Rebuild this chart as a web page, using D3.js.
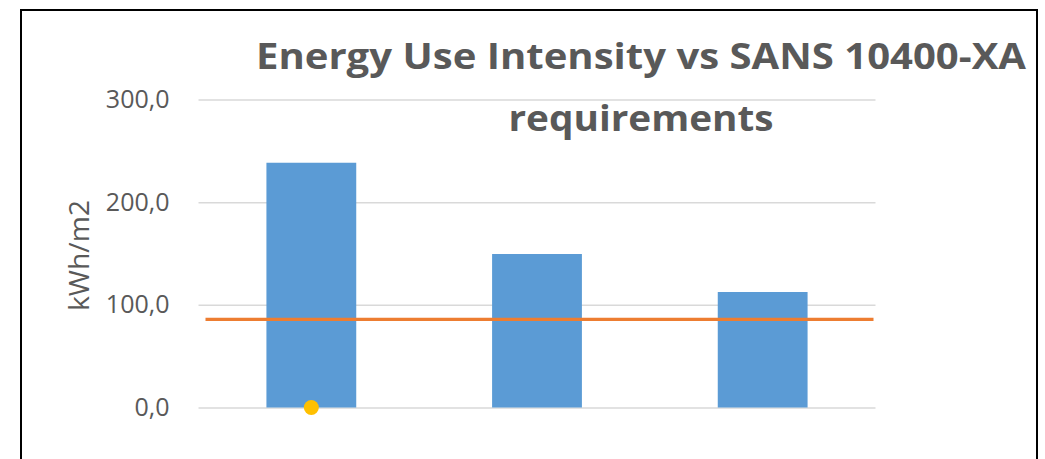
<!DOCTYPE html>
<html>
<head>
<meta charset="utf-8">
<script src="https://cdn.jsdelivr.net/npm/d3@7"></script>
<style>
  html, body { margin: 0; padding: 0; background: #fff; }
  svg { display: block; }
</style>
</head>
<body>
<svg id="chart"></svg>
<script>
/* ── Data ── */
const categories  = ['Building 1', 'Building 2', 'Building 3'];
const euiValues   = [238.4, 149.5, 112.5];   // kWh/m2 per building
const sansLimit   = 85.9;                    // SANS 10400-XA requirement
const markerValue = [0];                     // yellow point on first category
const yTicks      = [0, 100, 200, 300];
const titleLines  = ['Energy Use Intensity vs SANS 10400-XA', 'requirements'];

const FONT    = '"Open Sans", "Noto Sans", sans-serif';
const GREY    = '#595959';
const BLUE    = '#5B9BD5';
const ORANGE  = '#ED7D31';
const YELLOW  = '#FFC000';

const W = 1045, H = 459;
const svg = d3.select('#chart').attr('width', W).attr('height', H);

/* outer chart frame */
svg.append('rect')
  .attr('x', 21).attr('y', 10)
  .attr('width', 1016).attr('height', 520)
  .attr('fill', '#fff')
  .attr('stroke', '#000')
  .attr('stroke-width', 2);

/* ── Scales ── */
const x = d3.scaleBand()
  .domain(categories)
  .range([198.5, 875.5])
  .paddingInner(0.602)
  .paddingOuter(0.301);

const y = d3.scaleLinear()
  .domain([0, 300])
  .range([407.5, 99.5]);

/* ── Grid lines + tick labels ── */
svg.append('g')
  .attr('transform', `translate(${x.range()[0]},0)`)
  .call(d3.axisLeft(y)
    .tickValues(yTicks)
    .tickSize(-(x.range()[1] - x.range()[0]))
    .tickPadding(29)
    .tickFormat(v => d3.format('.1f')(v).replace('.', ',')))
  .call(ax => ax.select('.domain').remove())
  .call(ax => ax.selectAll('.tick line')
    .attr('stroke', '#D9D9D9')
    .attr('stroke-width', 1.5))
  .call(ax => ax.selectAll('.tick text')
    .attr('fill', GREY)
    .attr('font-size', 25)
    .attr('font-family', FONT));

/* y axis title */
svg.append('text')
  .attr('transform', `translate(89, ${(y(0) + y(300)) / 2 + 2}) rotate(-90)`)
  .attr('text-anchor', 'middle')
  .attr('fill', GREY)
  .attr('font-size', 28)
  .attr('font-family', FONT)
  .attr('textLength', 111)
  .attr('lengthAdjust', 'spacingAndGlyphs')
  .text('kWh/m2');

/* ── Bars ── */
svg.append('g')
  .selectAll('rect')
  .data(euiValues)
  .join('rect')
  .attr('x', (d, i) => x(categories[i]))
  .attr('y', d => y(d))
  .attr('width', x.bandwidth())
  .attr('height', d => y(0) - y(d))
  .attr('fill', BLUE);

/* ── SANS limit line ── */
svg.append('line')
  .attr('x1', x.range()[0] + 7)
  .attr('x2', x.range()[1] - 2)
  .attr('y1', y(sansLimit))
  .attr('y2', y(sansLimit))
  .attr('stroke', ORANGE)
  .attr('stroke-width', 3.2);

/* ── Yellow marker ── */
svg.append('g')
  .selectAll('circle')
  .data(markerValue)
  .join('circle')
  .attr('cx', (d, i) => x(categories[i]) + x.bandwidth() / 2)
  .attr('cy', d => y(d))
  .attr('r', 7.5)
  .attr('fill', YELLOW);

/* ── Title ── */
const titleWidths = [770, 265];
const titleBase   = [69, 131];
titleLines.forEach((line, i) => {
  svg.append('text')
    .attr('x', 641)
    .attr('y', titleBase[i])
    .attr('text-anchor', 'middle')
    .attr('fill', GREY)
    .attr('font-size', 36.5)
    .attr('font-weight', 'bold')
    .attr('font-family', FONT)
    .attr('textLength', titleWidths[i])
    .attr('lengthAdjust', 'spacingAndGlyphs')
    .text(line);
});
</script>
</body>
</html>
